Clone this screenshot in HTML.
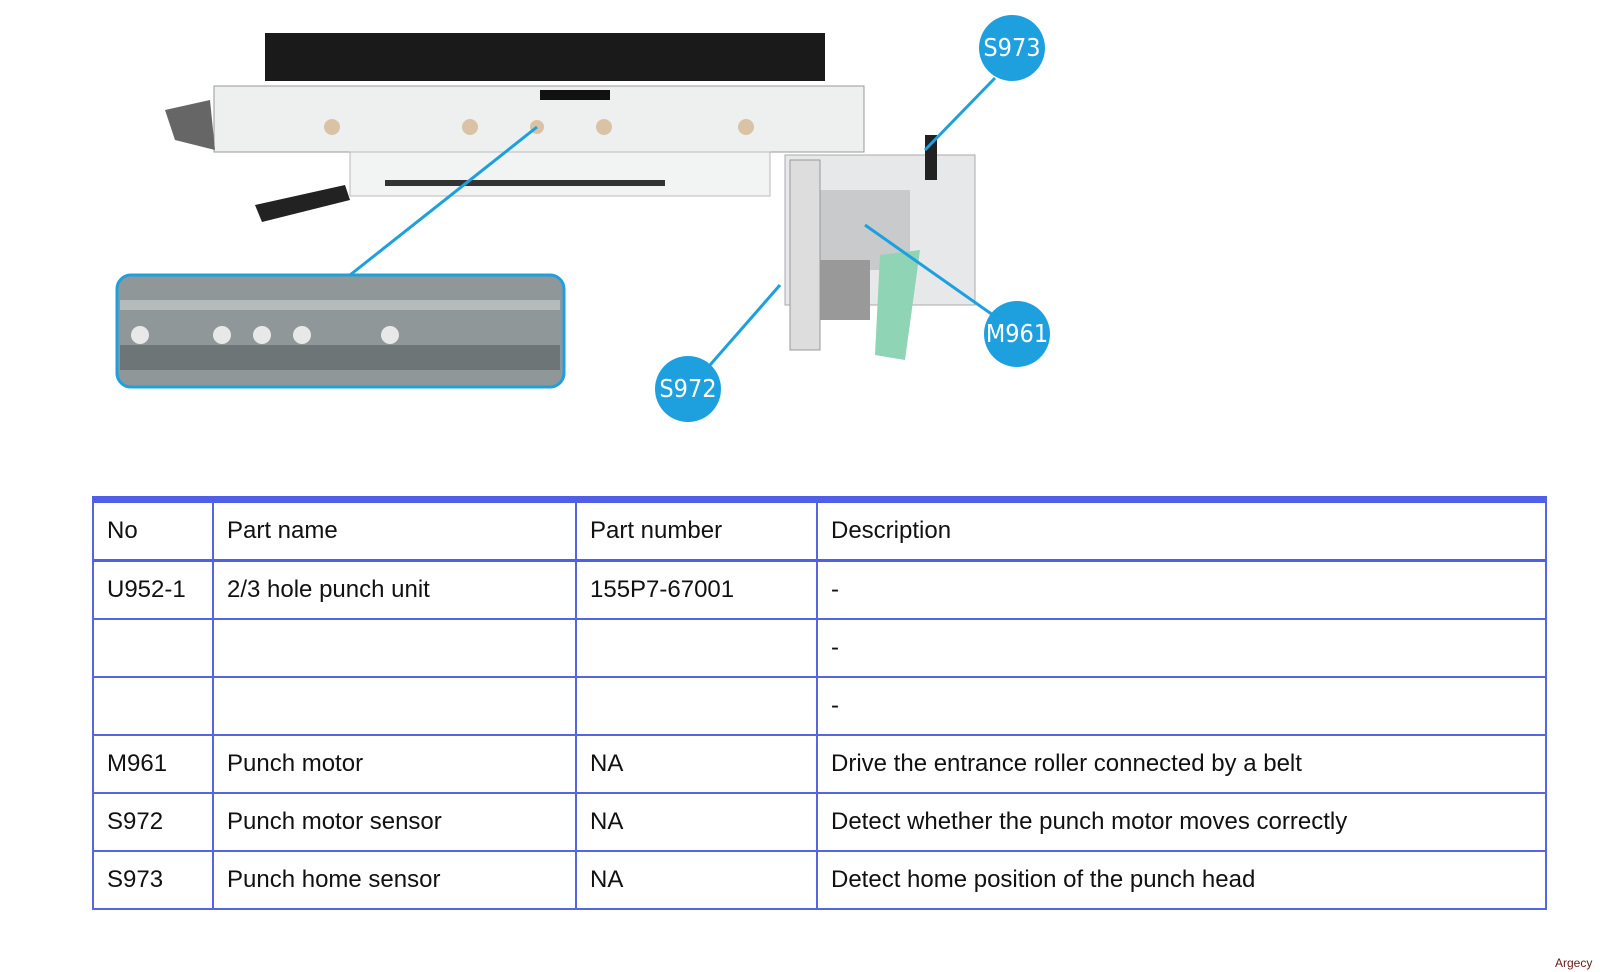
<!DOCTYPE html>
<html><head><style>
body{margin:0;width:1600px;height:972px;background:#fff;position:relative;overflow:hidden;font-family:"Liberation Sans",sans-serif}
table{position:absolute;left:92px;top:496px;border-collapse:collapse;width:1455px;font-size:24px;color:#111}
td{border:2px solid #5566e0;padding:0 0 0 13px;height:56px;vertical-align:middle}
tr.h td{border-top:7px solid #4f5fe8;border-bottom:3px solid #4f5fe8;height:56px}
.c{position:absolute;width:66px;height:66px;border-radius:50%;background:#1ea0df;color:#fff;font-size:25px;text-align:center;line-height:66px;font-family:"DejaVu Sans Condensed","Liberation Sans Narrow",sans-serif}
</style></head><body>
<svg width="1600" height="480" style="position:absolute;left:0;top:0">
<rect x="265" y="33" width="560" height="48" fill="#1a1a1a"/>
<rect x="214" y="86" width="650" height="66" fill="#eef0f0" stroke="#999"/>
<rect x="540" y="90" width="70" height="10" fill="#111"/>
<g fill="#d9c3a4"><circle cx="332" cy="127" r="8"/><circle cx="470" cy="127" r="8"/><circle cx="537" cy="127" r="7"/><circle cx="604" cy="127" r="8"/><circle cx="746" cy="127" r="8"/></g>
<rect x="350" y="152" width="420" height="44" fill="#f2f4f4" stroke="#bbb"/>
<rect x="385" y="180" width="280" height="6" fill="#333"/>
<polygon points="255,205 345,185 350,200 262,222" fill="#222"/>
<polygon points="165,110 210,100 215,150 175,140" fill="#666"/>
<rect x="785" y="155" width="190" height="150" fill="#e6e8ea" stroke="#aaa"/>
<rect x="820" y="190" width="90" height="80" fill="#c8cacc"/>
<rect x="790" y="160" width="30" height="190" fill="#ddd" stroke="#999"/>
<rect x="925" y="135" width="12" height="45" fill="#222"/>
<polygon points="880,255 920,250 905,360 875,355" fill="#8ed4b5"/>
<rect x="820" y="260" width="50" height="60" fill="#999"/>
<rect x="117" y="275" width="447" height="112" rx="14" fill="#8f9799" stroke="#1ea0df" stroke-width="3"/>
<rect x="120" y="300" width="440" height="10" fill="#b5baba"/>
<rect x="120" y="345" width="440" height="25" fill="#6e7576"/>
<g fill="#e8e8e8"><circle cx="140" cy="335" r="9"/><circle cx="222" cy="335" r="9"/><circle cx="262" cy="335" r="9"/><circle cx="302" cy="335" r="9"/><circle cx="390" cy="335" r="9"/></g>
<g stroke="#1ea0df" stroke-width="3"><line x1="537" y1="127" x2="350" y2="275"/><line x1="995" y1="78" x2="925" y2="150"/><line x1="1000" y1="320" x2="865" y2="225"/><line x1="710" y1="365" x2="780" y2="285"/></g>
</svg>
<div class="c" style="left:979px;top:15px">S973</div>
<div class="c" style="left:984px;top:301px">M961</div>
<div class="c" style="left:655px;top:356px">S972</div>
<table>
<tr class="h"><td style="width:105px">No</td><td style="width:348px">Part name</td><td style="width:226px">Part number</td><td>Description</td></tr>
<tr><td>U952-1</td><td>2/3 hole punch unit</td><td>155P7-67001</td><td>-</td></tr>
<tr><td></td><td></td><td></td><td>-</td></tr>
<tr><td></td><td></td><td></td><td>-</td></tr>
<tr><td>M961</td><td>Punch motor</td><td>NA</td><td>Drive the entrance roller connected by a belt</td></tr>
<tr><td>S972</td><td>Punch motor sensor</td><td>NA</td><td>Detect whether the punch motor moves correctly</td></tr>
<tr><td>S973</td><td>Punch home sensor</td><td>NA</td><td>Detect home position of the punch head</td></tr>
</table>
<div style="position:absolute;left:1555px;top:956px;font-size:12px;color:#6b1a1a">Argecy</div>
</body></html>
